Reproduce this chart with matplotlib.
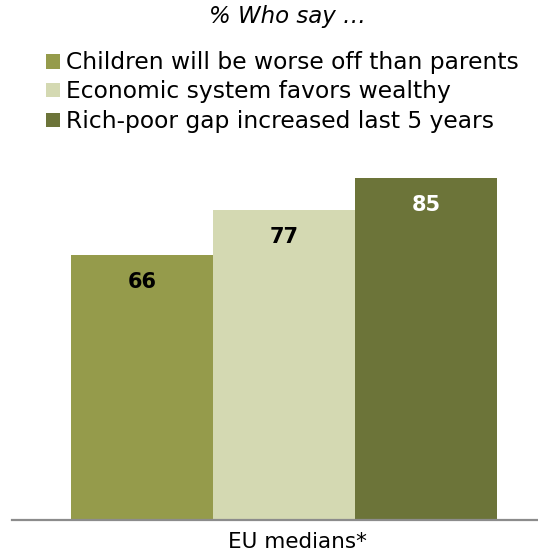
import matplotlib
matplotlib.use("Agg")
import matplotlib.pyplot as plt
from matplotlib.patches import Rectangle

# data
series = ["Children will be worse off than parents",
          "Economic system favors wealthy",
          "Rich-poor gap increased last 5 years"]
values = [66, 77, 85]
group_label = "EU medians*"
title = "% Who say \u2026"

colors = ["#959b4b", "#d4d9b2", "#6c7439"]
label_colors = ["black", "black", "white"]

plt.rcParams["font.family"] = "DejaVu Sans"

W, H = 538, 554
fig = plt.figure(figsize=(W / 100, H / 100), dpi=100)
ax = fig.add_axes([12 / W, 34 / H, 526 / W, 402 / H])

xs = range(len(values))
bars = ax.bar(xs, values, width=1.0, color=colors)

for b, v, c in zip(bars, values, label_colors):
    ax.annotate(str(v), xy=(b.get_x() + b.get_width() / 2, v),
                xytext=(0, -27), textcoords="offset pixels",
                ha="center", va="center", fontsize=15,
                fontweight="bold", color=c)

ax.set_xlim(-0.915, 2.785)
ax.set_ylim(0, 100)
for s in ["top", "left", "right"]:
    ax.spines[s].set_visible(False)
ax.spines["bottom"].set_color("#8c8c8c")
ax.spines["bottom"].set_linewidth(1.6)
ax.set_xticks([])
ax.set_yticks([])

fig.text(297 / W, 1 - 542 / H, group_label, ha="center", va="center",
         fontsize=15.5)

fig.text(287 / W, 1 - 17 / H, title, ha="center", va="center",
         fontsize=16.5, style="italic")

# legend drawn by hand so rows line up with the reference
baselines = [69.5, 98, 128.3]
for name, c, y in zip(series, colors, baselines):
    fig.add_artist(Rectangle((46 / W, 1 - (y - 1) / H), 14 / W, 14 / H,
                             transform=fig.transFigure, facecolor=c,
                             edgecolor="none"))
    fig.text(66 / W, 1 - y / H, name, ha="left", va="baseline",
             fontsize=16.8)

fig.savefig("out.png", dpi=100)
